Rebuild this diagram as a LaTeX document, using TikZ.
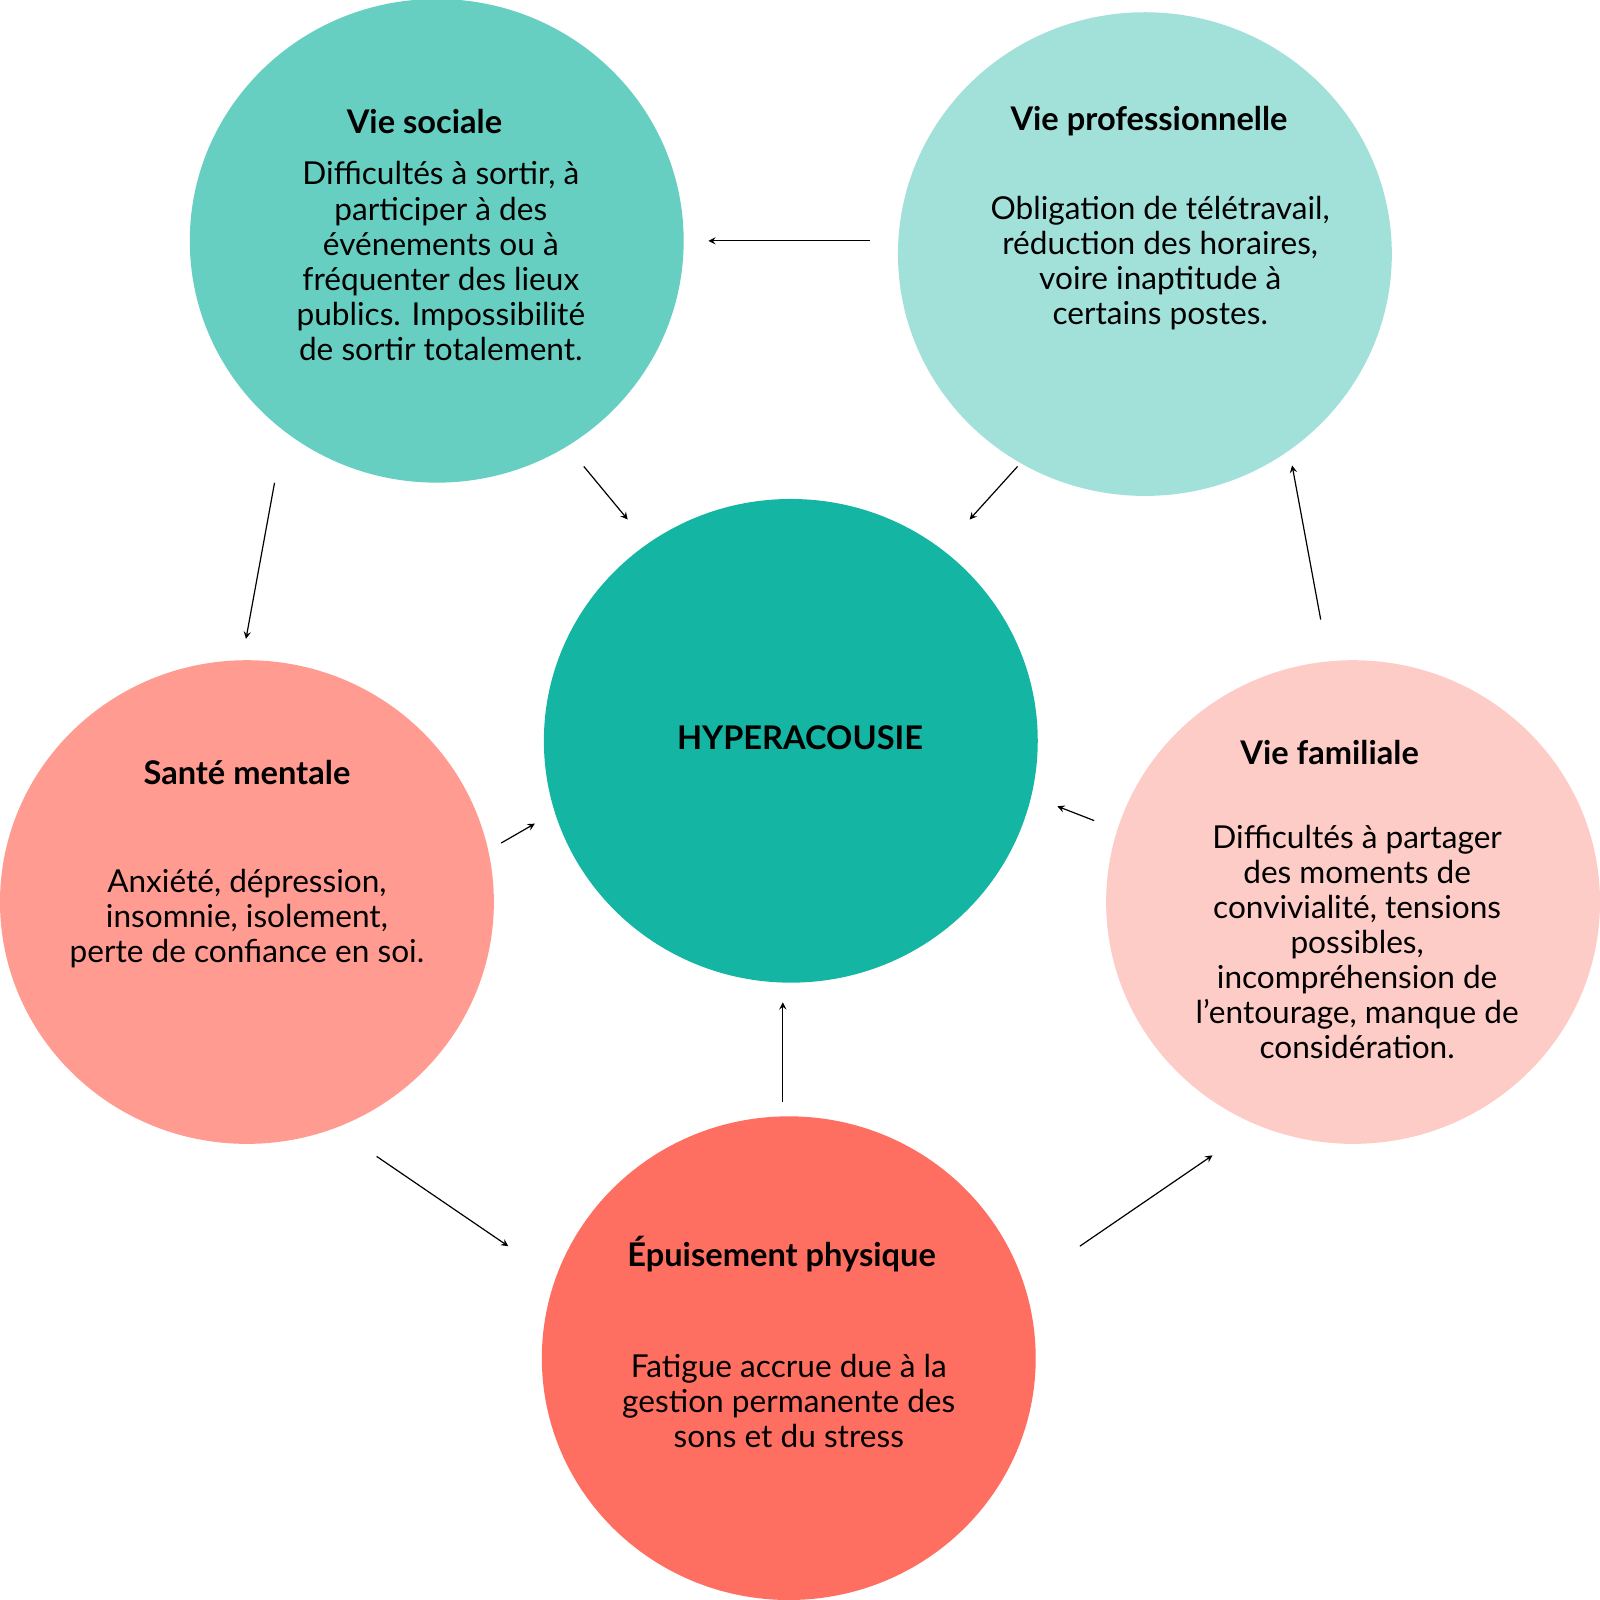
\documentclass[tikz,border=0pt]{standalone}
\usepackage{fontspec}
\setmainfont{Lato}
\definecolor{cS}{HTML}{66CFC1}
\definecolor{cP}{HTML}{A2E1DA}
\definecolor{cH}{HTML}{14B5A2}
\definecolor{cM}{HTML}{FF9B91}
\definecolor{cF}{HTML}{FECCC7}
\definecolor{cE}{HTML}{FF6F61}
\begin{document}
\begin{tikzpicture}[x=0.5pt,y=-0.5pt,
 ttl/.style={font=\fontsize{16.3}{19}\selectfont\bfseries},
 body/.style={font=\fontsize{15.8}{17.55}\selectfont,align=center},
 arr/.style={->,>=stealth,line width=0.6pt}]
\begin{scope}[scale=1.0204]
\fill[cS] (428,236) ellipse (242 and 237);
\fill[cP] (1122,249) ellipse (242 and 237);
\fill[cH] (775,726) ellipse (242 and 237);
\fill[cM] (242,884) ellipse (242 and 237);
\fill[cF] (1326,884) ellipse (242 and 237);
\fill[cE] (773,1331) ellipse (242 and 237);
\node[ttl] (ts) at (416,119) {Vie sociale};
\node[body] (bs) at (432,256) {Difficultés à sortir, à\\participer à des\\événements ou à\\fréquenter des lieux\\publics. Impossibilité\\de sortir totalement.};
\node[ttl] (tp) at (1126,119) {Vie professionnelle};
\node[body] (bp) at (1137,258) {Obligation de télétravail,\\réduction des horaires,\\voire inaptitude à\\certains postes.};
\node[ttl] (th) at (784,723) {HYPERACOUSIE};
\node[ttl] (tm) at (242,757) {Santé mentale};
\node[body] (bm) at (242,900) {Anxiété, dépression,\\insomnie, isolement,\\perte de confiance en soi.};
\node[ttl] (tf) at (1303,737) {Vie familiale};
\node[body] (bf) at (1330,923) {Difficultés à partager\\des moments de\\convivialité, tensions\\possibles,\\incompréhension de\\l’entourage, manque de\\considération.};
\node[ttl] (te) at (766,1229) {Épuisement physique};
\node[body] (be) at (773,1373) {Fatigue accrue due à la\\gestion permanente des\\sons et du stress};
\foreach \n/\a/\b/\c/\d in {1/852/236/694/236, 2/572/457/615/509, 3/997/457/950/509, 4/269/473/241/626, 5/1294/607/1266/456, 6/491/826/524/807, 7/1072/804/1036/790, 8/369/1133/498/1221, 9/767/1080/767/982, 10/1058/1221/1188/1132}{%
 \coordinate (s\n) at (\a,\b); \coordinate (e\n) at (\c,\d);%
 \draw[arr] (s\n) -- (e\n);}
\end{scope}
\pgfresetboundingbox
\useasboundingbox (0,0) rectangle (1600,1600);
\end{tikzpicture}
\end{document}
